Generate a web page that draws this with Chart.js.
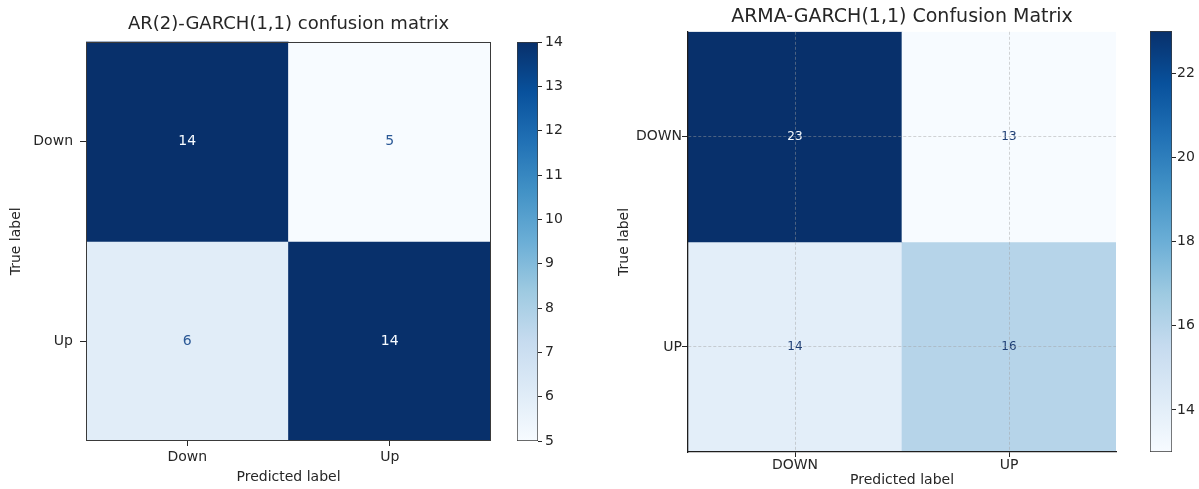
<!DOCTYPE html>
<html>
<head>
<meta charset="utf-8">
<script src="https://cdn.jsdelivr.net/npm/chart.js@4/dist/chart.umd.min.js"></script>
<style>
    html, body { margin: 0; padding: 0; background: #ffffff; }
    #page { position: relative; width: 1199px; height: 489px; overflow: hidden; }
    .box { position: absolute; top: 0; height: 489px; }
</style>
</head>
<body>
<div id="page">
    <div class="box" style="left:0px;width:500px;"><canvas id="cmLeft"></canvas></div>
    <div class="box" style="left:510px;width:60px;"><canvas id="cbLeft"></canvas></div>
    <div class="box" style="left:600px;width:530px;"><canvas id="cmRight"></canvas></div>
    <div class="box" style="left:1143px;width:56px;"><canvas id="cbRight"></canvas></div>
</div>
<script>
    // ---- data ----
    var leftTitle = 'AR(2)-GARCH(1,1) confusion matrix';
    var leftLabels = ['Down', 'Up'];
    var leftRowDown = [14, 5];
    var leftRowUp = [6, 14];
    var leftBarTicks = [5, 6, 7, 8, 9, 10, 11, 12, 13, 14];

    var rightTitle = 'ARMA-GARCH(1,1) Confusion Matrix';
    var rightLabels = ['DOWN', 'UP'];
    var rightRowDown = [23, 13];
    var rightRowUp = [14, 16];
    var rightBarTicks = [14, 16, 18, 20, 22];
    var rightRange = [13, 23];

    var FONT = 'DejaVu Sans';
    var INK = '#262626';

    // matplotlib "Blues" colour stops
    var blueStops = ['#f7fbff', '#deebf7', '#c6dbef', '#9ecae1', '#6baed6', '#4292c6', '#2171b5', '#08519c', '#08306b'];

    function hexToRgb(h) {
        return [parseInt(h.substr(1, 2), 16), parseInt(h.substr(3, 2), 16), parseInt(h.substr(5, 2), 16)];
    }

    function blues(t) {
        t = Math.max(0, Math.min(1, t));
        var pos = t * (blueStops.length - 1);
        var i = Math.min(Math.floor(pos), blueStops.length - 2);
        var f = pos - i;
        var a = hexToRgb(blueStops[i]), b = hexToRgb(blueStops[i + 1]);
        return 'rgb(' + Math.round(a[0] + (b[0] - a[0]) * f) + ',' + Math.round(a[1] + (b[1] - a[1]) * f) + ',' + Math.round(a[2] + (b[2] - a[2]) * f) + ')';
    }

    // draws the count in the middle of each cell
    var cellText = {
        id: 'cellText',
        afterDatasetsDraw: function (chart, args, opts) {
            var ctx = chart.ctx;
            ctx.save();
            ctx.font = opts.size + 'px "' + FONT + '"';
            ctx.textAlign = 'center';
            ctx.textBaseline = 'middle';
            chart.data.datasets.forEach(function (ds, di) {
                var meta = chart.getDatasetMeta(di);
                meta.data.forEach(function (bar, j) {
                    var v = ds.counts[j];
                    var t = (v - opts.vmin) / (opts.vmax - opts.vmin);
                    ctx.fillStyle = t > 0.5 ? '#f7fbff' : opts.dark;
                    ctx.fillText(String(v), bar.x, (bar.y + bar.base) / 2);
                });
            });
            ctx.restore();
        }
    };

    // box around the plot area (left chart has all four spines)
    var frame = {
        id: 'frame',
        afterDraw: function (chart, args, opts) {
            if (!opts.show) return;
            var a = chart.chartArea, ctx = chart.ctx;
            ctx.save();
            ctx.strokeStyle = opts.color;
            ctx.lineWidth = 1;
            ctx.strokeRect(Math.round(a.left) + 0.5, Math.round(a.top) + 0.5, Math.round(a.right - a.left) - 1, Math.round(a.bottom - a.top) - 1);
            ctx.restore();
        }
    };

    function rowSet(r, row, vmin, vmax) {
        return {
            data: row.map(function () { return [r - 0.5, r + 0.5]; }),
            counts: row,
            backgroundColor: row.map(function (v) { return blues((v - vmin) / (vmax - vmin)); }),
            borderWidth: 0,
            barPercentage: 1,
            categoryPercentage: 1,
            grouped: false
        };
    }

    function makeMatrix(id, cfg) {
        return new Chart(document.getElementById(id), {
            type: 'bar',
            data: {
                labels: cfg.labels,
                datasets: [rowSet(0, cfg.rows[0], cfg.vmin, cfg.vmax), rowSet(1, cfg.rows[1], cfg.vmin, cfg.vmax)]
            },
            options: {
                responsive: true,
                maintainAspectRatio: false,
                animation: false,
                layout: { padding: { left: 0, right: cfg.padRight, top: 0, bottom: 0 } },
                plugins: {
                    legend: { display: false },
                    tooltip: { enabled: false },
                    title: {
                        display: true,
                        text: cfg.title,
                        fullSize: false,
                        color: INK,
                        font: { family: FONT, size: cfg.titleSize, weight: 'normal' },
                        padding: cfg.titlePad
                    },
                    cellText: { size: cfg.cellSize, vmin: cfg.vmin, vmax: cfg.vmax, dark: cfg.darkText },
                    frame: { show: cfg.frame, color: '#3a3a3a' }
                },
                scales: {
                    x: {
                        afterFit: function (s) { s.height = cfg.xHeight; },
                        grid: {
                            display: true,
                            drawOnChartArea: cfg.grid,
                            color: 'rgba(160,160,160,0.45)',
                            tickColor: INK,
                            tickLength: 5,
                            tickBorderDash: [],
                            offset: false,
                            z: 1
                        },
                        border: { display: !cfg.frame, color: '#1e1e1e', width: 1.3, dash: [3, 2], z: 2 },
                        ticks: { color: INK, padding: cfg.xTickPad, font: { family: FONT, size: 14 } },
                        title: { display: true, text: 'Predicted label', color: INK, font: { family: FONT, size: 14 }, padding: { top: 0, bottom: cfg.xTitlePad } }
                    },
                    y: {
                        type: 'linear',
                        min: -0.5,
                        max: 1.5,
                        reverse: true,
                        afterFit: function (s) { s.width = cfg.yWidth; },
                        afterBuildTicks: function (s) { s.ticks = [{ value: 0 }, { value: 1 }]; },
                        grid: {
                            display: true,
                            drawOnChartArea: cfg.grid,
                            color: 'rgba(160,160,160,0.45)',
                            tickColor: INK,
                            tickLength: 6,
                            tickBorderDash: [],
                            z: 1
                        },
                        border: { display: !cfg.frame, color: '#1e1e1e', width: 1.3, dash: [3, 2], z: 2 },
                        ticks: {
                            color: INK,
                            padding: cfg.yTickPad,
                            font: { family: FONT, size: 14 },
                            callback: function (v) { return cfg.labels[v]; }
                        },
                        title: { display: true, text: 'True label', color: INK, font: { family: FONT, size: 14 }, padding: { top: cfg.yTitlePad, bottom: 2 } }
                    }
                }
            },
            plugins: [cellText, frame]
        });
    }

    function makeColorbar(id, cfg) {
        return new Chart(document.getElementById(id), {
            type: 'bar',
            data: {
                labels: [''],
                datasets: [{
                    data: [[cfg.vmin, cfg.vmax]],
                    backgroundColor: function (c) {
                        var a = c.chart.chartArea;
                        if (!a) return blueStops[4];
                        var g = c.chart.ctx.createLinearGradient(0, a.bottom, 0, a.top);
                        blueStops.forEach(function (col, i) { g.addColorStop(i / (blueStops.length - 1), col); });
                        return g;
                    },
                    borderColor: '#3a3a3a',
                    borderWidth: 1,
                    borderSkipped: false,
                    barPercentage: 1,
                    categoryPercentage: 1
                }]
            },
            options: {
                responsive: true,
                maintainAspectRatio: false,
                animation: false,
                layout: { padding: { left: 7, right: 0, top: cfg.top, bottom: cfg.bottom } },
                plugins: { legend: { display: false }, tooltip: { enabled: false } },
                scales: {
                    x: { display: false },
                    y: {
                        position: 'right',
                        min: cfg.vmin,
                        max: cfg.vmax,
                        afterFit: function (s) { s.width = cfg.axisWidth; },
                        afterBuildTicks: function (s) { s.ticks = cfg.ticks.map(function (v) { return { value: v }; }); },
                        grid: { drawOnChartArea: false, tickColor: INK, tickLength: 4 },
                        border: { display: false },
                        ticks: { color: INK, padding: cfg.tickPad, font: { family: FONT, size: cfg.fontSize } }
                    }
                }
            }
        });
    }

    makeMatrix('cmLeft', {
        title: leftTitle, labels: leftLabels, rows: [leftRowDown, leftRowUp], vmin: 5, vmax: 14,
        padRight: 9, yWidth: 86, xHeight: 48, titleSize: 18, titlePad: { top: 14, bottom: 6 },
        cellSize: 14, darkText: '#2a5896', frame: true, grid: false,
        xTickPad: 3, xTitlePad: 3, yTickPad: 7, yTitlePad: 8
    });
    makeColorbar('cbLeft', { vmin: 5, vmax: 14, ticks: leftBarTicks, top: 42, bottom: 48, axisWidth: 32, fontSize: 14, tickPad: 3 });

    makeMatrix('cmRight', {
        title: rightTitle, labels: rightLabels, rows: [rightRowDown, rightRowUp], vmin: rightRange[0], vmax: rightRange[1],
        padRight: 14, yWidth: 88, xHeight: 37, titleSize: 19, titlePad: { top: 6, bottom: 3 },
        cellSize: 12, darkText: '#1f3f75', frame: false, grid: true,
        xTickPad: 0, xTitlePad: 0, yTickPad: 0, yTitlePad: 16
    });
    makeColorbar('cbRight', { vmin: rightRange[0], vmax: rightRange[1], ticks: rightBarTicks, top: 31, bottom: 37, axisWidth: 27, fontSize: 14, tickPad: 1 });
</script>
</body>
</html>
